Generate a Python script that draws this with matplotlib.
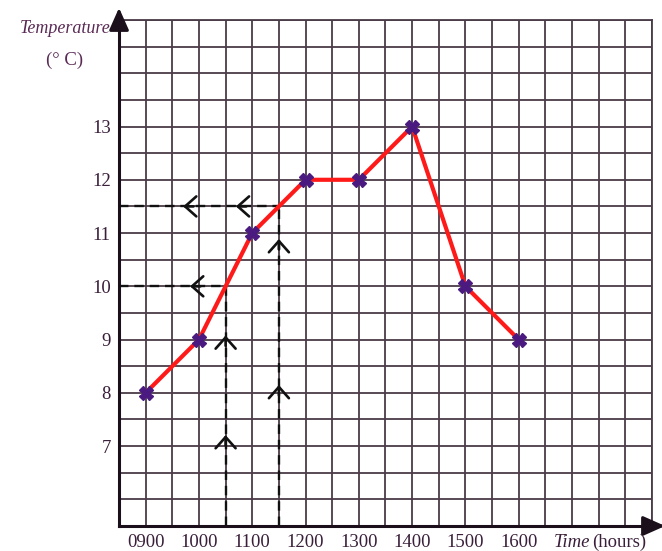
import matplotlib.pyplot as plt
from matplotlib.ticker import MultipleLocator

# time in hours, temperature in deg C
hours = [9, 10, 11, 12, 13, 14, 15, 16]
temps = [8, 9, 11, 12, 12, 13, 10, 9]
hour_labels = ['0900', '1000', '1100', '1200', '1300', '1400', '1500', '1600']
temp_ticks = [7, 8, 9, 10, 11, 12, 13]

# dashed reading lines: (time, temperature) where they meet the curve
readings = [(10.5, 10), (11.5, 11.5)]
# arrow heads along the reading lines
left_arrows = [(9.78, 10), (9.65, 11.5), (10.64, 11.5)]
up_arrows = [(10.5, 7.26), (10.5, 9.13), (11.5, 8.2), (11.5, 10.94)]

plt.rcParams['font.family'] = ['Liberation Serif', 'DejaVu Serif']
grid_col = '#4a3c48'
text_col = '#3a1f3a'

fig = plt.figure(figsize=(6.62, 5.51), dpi=100)
ax = fig.add_axes([0.1798, 0.0454, 0.805, 0.9183])
ax.set_xlim(8.5, 18.5)
ax.set_ylim(5.5, 15)

ax.xaxis.set_minor_locator(MultipleLocator(0.5))
ax.yaxis.set_minor_locator(MultipleLocator(0.5))
ax.grid(which='both', color=grid_col, lw=1.3)
ax.set_axisbelow(True)
ax.tick_params(which='both', length=0)
ax.set_xticks(hours, hour_labels)
ax.set_yticks(temp_ticks)
ax.tick_params(axis='x', labelsize=13.5, colors=text_col, pad=6)
ax.tick_params(axis='y', labelsize=13.5, colors=text_col, pad=6)

for s in ['top', 'right']:
    ax.spines[s].set_color(grid_col)
    ax.spines[s].set_linewidth(1.3)
for s in ['left', 'bottom']:
    ax.spines[s].set_color('#1a0f1a')
    ax.spines[s].set_linewidth(2.2)

# axis arrows
head = '-|>,head_length=0.9,head_width=0.4'
ax.annotate('', xy=(8.5, 15.28), xytext=(8.5, 14.9),
            arrowprops=dict(arrowstyle=head, color='#1a0f1a', lw=2.2, mutation_scale=15),
            annotation_clip=False)
ax.annotate('', xy=(18.8, 5.5), xytext=(18.4, 5.5),
            arrowprops=dict(arrowstyle=head, color='#1a0f1a', lw=2.2, mutation_scale=15),
            annotation_clip=False)

# dashed reading lines
chev = '->,head_length=0.45,head_width=0.4'
for tx, ty in readings:
    ax.plot([8.5, tx], [ty, ty], color='#111111', lw=1.7, ls=(0, (4, 2.5)), zorder=3)
    ax.plot([tx, tx], [5.5, ty], color='#111111', lw=1.7, ls=(0, (4, 2.5)), zorder=3)
for ax_x, ay in left_arrows:
    ax.annotate('', xy=(ax_x, ay), xytext=(ax_x + 0.3, ay),
                arrowprops=dict(arrowstyle=chev, color='#111111', lw=1.9, mutation_scale=18))
for ax_x, ay in up_arrows:
    ax.annotate('', xy=(ax_x, ay), xytext=(ax_x, ay - 0.3),
                arrowprops=dict(arrowstyle=chev, color='#111111', lw=1.9, mutation_scale=18))

ax.plot(hours, temps, color='#ff1a1a', lw=3, zorder=4)
ax.plot(hours, temps, ls='none', marker='X', markersize=10, color='#4a1a80',
        markeredgecolor='#4a1a80', zorder=5)

fig.text(0.098, 0.949, 'Temperature', style='italic', fontsize=13, color='#5a2a55',
         ha='center', va='center')
fig.text(0.098, 0.891, '(° C)', fontsize=13.5, color='#5a2a55',
         ha='center', va='center')
fig.text(0.836, 0.016, 'Time', style='italic', fontsize=13.5, color='#3a1f3a',
         ha='left', va='center')
fig.text(0.895, 0.016, '(hours)', fontsize=13.5, color='#3a1f3a', ha='left', va='center')

fig.savefig('out.png', dpi=100)
